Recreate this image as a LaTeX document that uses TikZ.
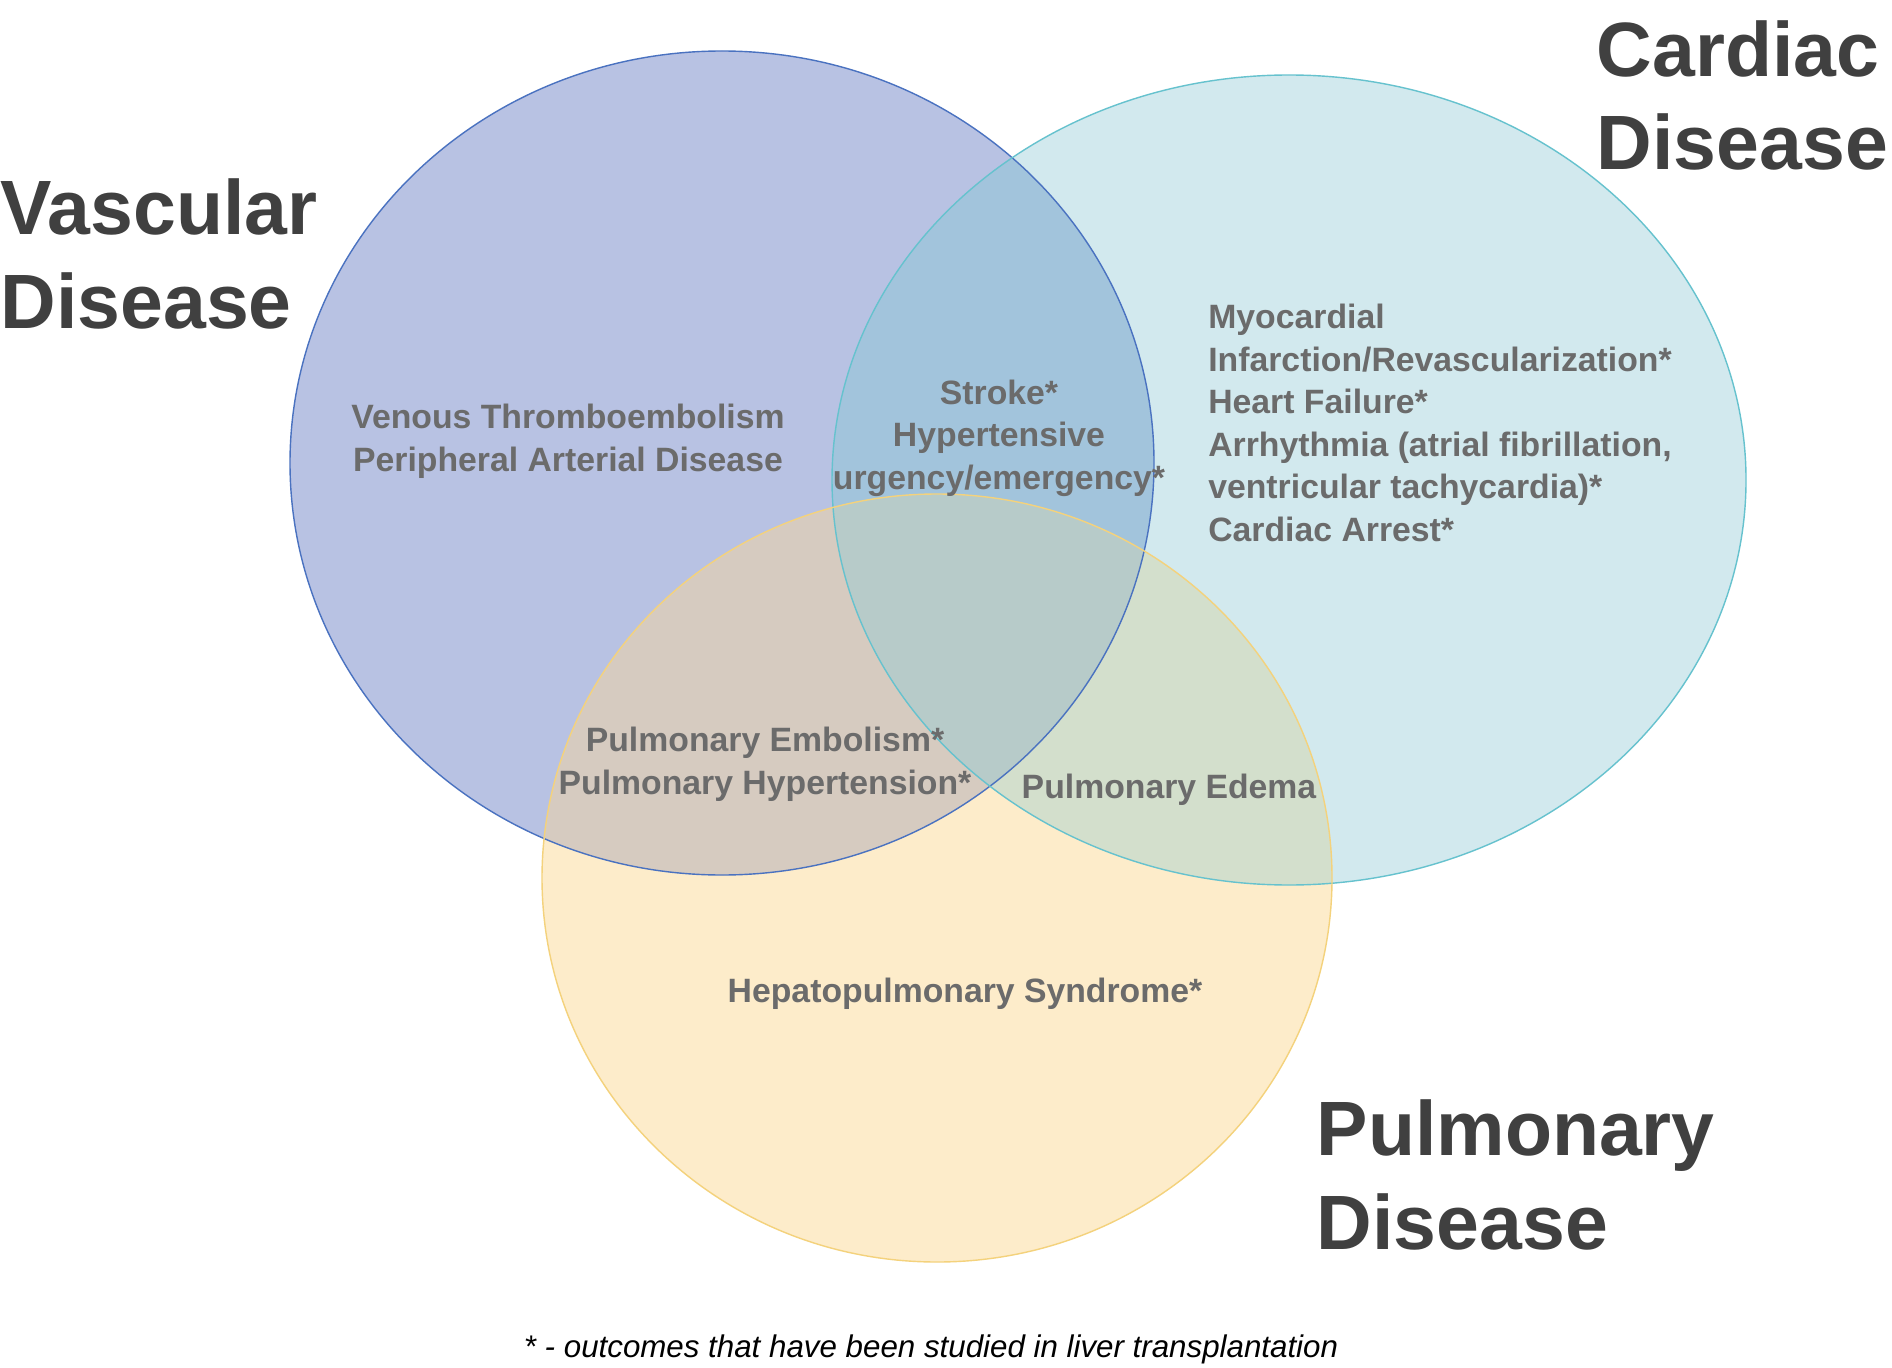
\documentclass[tikz,border=0pt]{standalone}
\usepackage{fontspec}
\setmainfont{Liberation Sans}
\usetikzlibrary{calc}
\definecolor{vascfill}{HTML}{B8C2E3}
\definecolor{cardfill}{HTML}{D2E9EE}
\definecolor{pulmfill}{HTML}{FDECCA}
\definecolor{vcfill}{HTML}{A2C4DC}
\definecolor{vpfill}{HTML}{D6CBC0}
\definecolor{cpfill}{HTML}{D3DFCC}
\definecolor{allfill}{HTML}{B7CBC9}
\definecolor{vascedge}{HTML}{4A72C0}
\definecolor{cardedge}{HTML}{66C2CE}
\definecolor{pulmedge}{HTML}{F4D27C}
\definecolor{titlegray}{HTML}{404040}
\definecolor{textgray}{HTML}{6B6B6B}
\def\vascset{(722, 463) ellipse [x radius=432, y radius=412]}
\def\cardset{(1289, 480) ellipse [x radius=457, y radius=405]}
\def\pulmset{(937, 878) ellipse [x radius=395, y radius=384]}
\tikzset{
	title/.style={font=\fontsize{21.9}{26.7}\selectfont\bfseries, color=titlegray, align=left, anchor=base west, inner sep=0pt},
	outcome/.style={font=\fontsize{9.6}{12.1}\selectfont\bfseries, color=textgray, inner sep=0pt},
}

\begin{document}
\begin{tikzpicture}[x=0.01cm, y=-0.01cm]
		%%%%% START %%%%%
		
		\fill[white] (0, 0) rectangle (1892, 1367);
		\useasboundingbox (0, 0) rectangle (1892, 1367);
		
		\fill[vascfill] \vascset;
		\fill[cardfill] \cardset;
		\fill[pulmfill] \pulmset;
		
		\begin{scope}
			\clip \cardset;
			\fill[cpfill] \pulmset;
		\end{scope}
		\begin{scope}
			\clip \vascset;
			\fill[vcfill] \cardset;
			\fill[vpfill] \pulmset;
			\clip \cardset;
			\fill[allfill] \pulmset;
		\end{scope}
		
		\draw[line width=0.4pt, color=vascedge] \vascset;
		\draw[line width=0.4pt, color=cardedge] \cardset;
		\draw[line width=0.4pt, color=pulmedge] \pulmset;
		
		\node[title] (vasctitle) at (0, 328) {Vascular\\Disease};
		\node[title] (cardtitle) at (1596, 170) {Cardiac\\Disease};
		\node[title] (pulmtitle) at (1316, 1249) {Pulmonary\\Disease};
		
		\node[outcome, align=center] (vasconly) at (568, 441) {Venous Thromboembolism\\Peripheral Arterial Disease};
		\node[outcome, align=center] (vasccard) at (999, 438) {Stroke*\\Hypertensive\\urgency/emergency*};
		\node[outcome, align=left] (cardonly) at (1440, 423) {Myocardial\\Infarction/Revascularization*\\Heart Failure*\\Arrhythmia (atrial fibrillation,\\ventricular tachycardia)*\\Cardiac Arrest*};
		\node[outcome, align=center] (vascpulm) at (765, 764) {Pulmonary Embolism*\\Pulmonary Hypertension*};
		\node[outcome] (cardpulm) at (1169, 790) {Pulmonary Edema};
		\node[outcome] (pulmonly) at (965, 994) {Hepatopulmonary Syndrome*};
		
		\node[font=\fontsize{8.9}{10}\selectfont\itshape, color=black, inner sep=0pt] (footnote) at (931, 1349) {* - outcomes that have been studied in liver transplantation};
		
		%%%%% END %%%%%
\end{tikzpicture}
\end{document}
